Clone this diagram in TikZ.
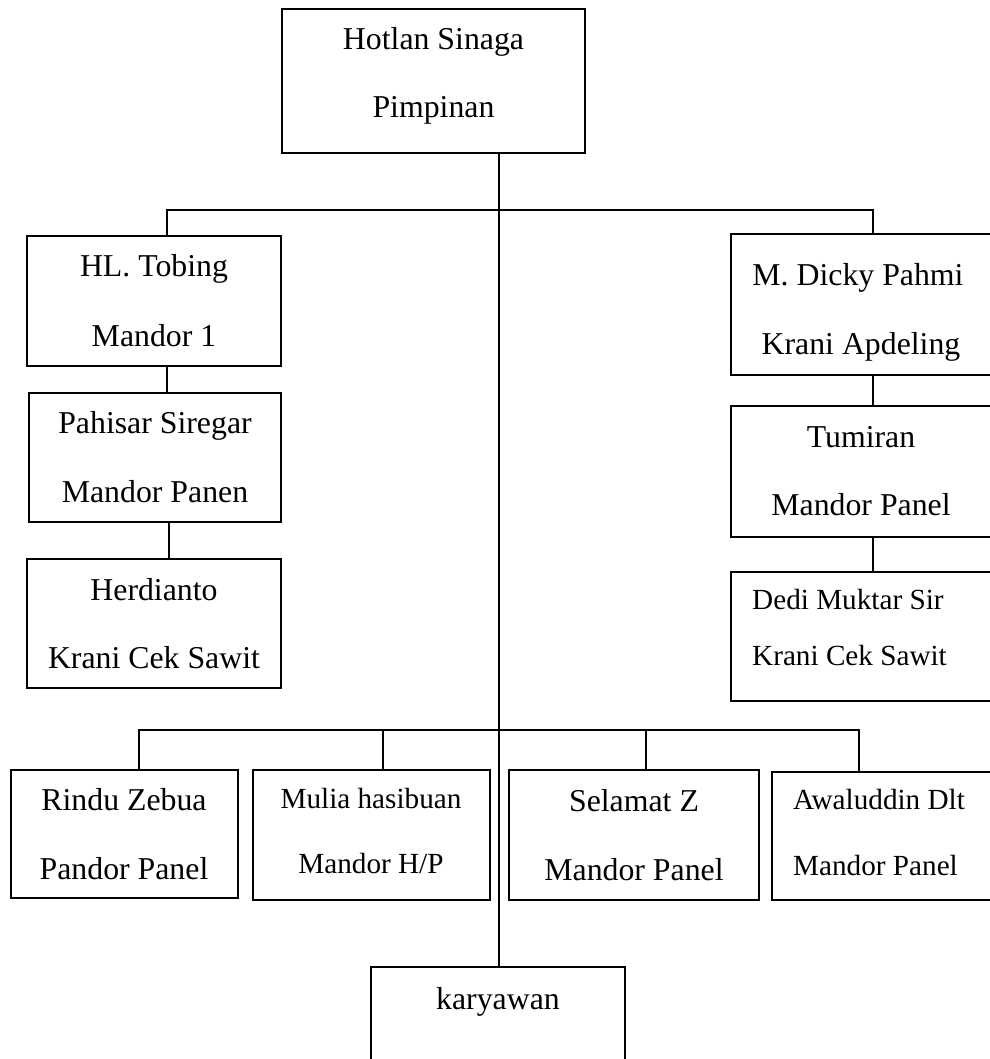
\documentclass[tikz,border=0pt]{standalone}
\usepackage{fontspec}
\setmainfont{Liberation Serif}
\begin{document}
\begin{tikzpicture}[x=1pt,y=-1pt]
	\tikzstyle{every node}+=[inner sep=0pt]
	\tikzstyle{box}=[draw=black, line width=1.2pt, rectangle]
	\tikzstyle{link}=[draw=black, line width=1.2pt]
	\tikzstyle{big}=[anchor=base, font=\fontsize{31.8}{38}\selectfont]
	\tikzstyle{small}=[anchor=base, font=\fontsize{29.2}{35}\selectfont]
	\useasboundingbox (0,0) rectangle (989,1059);
	% boxes
	\node [box, minimum width=303pt, minimum height=144pt] (hotlan) at (433.5,81) {};
	\node [box, minimum width=254pt, minimum height=130pt] (tobing) at (154,301) {};
	\node [box, minimum width=252pt, minimum height=129pt] (pahisar) at (155,457.5) {};
	\node [box, minimum width=254pt, minimum height=129pt] (herdianto) at (154,623.5) {};
	\node [box, minimum width=267pt, minimum height=141pt] (dicky) at (864.5,304.5) {};
	\node [box, minimum width=267pt, minimum height=131pt] (tumiran) at (864.5,471.5) {};
	\node [box, minimum width=267pt, minimum height=129pt] (dedi) at (864.5,636.5) {};
	\node [box, minimum width=227pt, minimum height=128pt] (rindu) at (124.5,834) {};
	\node [box, minimum width=237pt, minimum height=130pt] (mulia) at (371.5,835) {};
	\node [box, minimum width=250pt, minimum height=130pt] (selamat) at (634,835) {};
	\node [box, minimum width=226pt, minimum height=128pt] (awal) at (885,836) {};
	\node [box, minimum width=254pt, minimum height=104pt] (karyawan) at (498,1019) {};
	% texts
	\node [big] (hotlan-a) at (433.5,50) {Hotlan Sinaga};
	\node [big] (hotlan-b) at (433.5,118) {Pimpinan};
	\node [big] (tobing-a) at (154,276) {HL. Tobing};
	\node [big] (tobing-b) at (154,346) {Mandor 1};
	\node [big] (pahisar-a) at (155,433) {Pahisar Siregar};
	\node [big] (pahisar-b) at (155,502) {Mandor Panen};
	\node [big] (herdianto-a) at (154,600) {Herdianto};
	\node [big] (herdianto-b) at (154,668) {Krani Cek Sawit};
	\node [big] (dicky-a) at (858,285) {M. Dicky Pahmi};
	\node [big] (dicky-b) at (861,354) {Krani Apdeling};
	\node [big] (tumiran-a) at (861,447) {Tumiran};
	\node [big] (tumiran-b) at (861,515) {Mandor Panel};
	\node [small, anchor=base west] (dedi-a) at (752,609) {Dedi Muktar Sir};
	\node [small, anchor=base west] (dedi-b) at (752,665) {Krani Cek Sawit};
	\node [big] (rindu-a) at (124,810) {Rindu Zebua};
	\node [big] (rindu-b) at (124,879) {Pandor Panel};
	\node [small] (mulia-a) at (371,808) {Mulia hasibuan};
	\node [small] (mulia-b) at (371,873) {Mandor H/P};
	\node [big] (selamat-a) at (634,811) {Selamat Z};
	\node [big] (selamat-b) at (634,880) {Mandor Panel};
	\node [small, anchor=base west] (awal-a) at (793,809) {Awaluddin Dlt};
	\node [small, anchor=base west] (awal-b) at (793,875) {Mandor Panel};
	\node [big] (karyawan-a) at (498,1009) {karyawan};
	% connectors
	\coordinate (spine) at (499,210);
	\coordinate (bar-l) at (167,210);
	\coordinate (bar-r) at (873,210);
	\coordinate (stub-l) at (169,540);
	\coordinate (low-a) at (139,730);
	\coordinate (low-b) at (383,730);
	\coordinate (low-c) at (646,730);
	\coordinate (low-d) at (859,730);
	\draw [link] (spine |- hotlan.south) -- (spine |- karyawan.north);
	\draw [link] (bar-l |- tobing.north) -- (bar-l) -- (bar-r) -- (bar-r |- dicky.north);
	\draw [link] (bar-l |- tobing.south) -- (bar-l |- pahisar.north);
	\draw [link] (stub-l |- pahisar.south) -- (stub-l |- herdianto.north);
	\draw [link] (bar-r |- dicky.south) -- (bar-r |- tumiran.north);
	\draw [link] (bar-r |- tumiran.south) -- (bar-r |- dedi.north);
	\draw [link] (low-a |- rindu.north) -- (low-a) -- (low-d) -- (low-d |- awal.north);
	\draw [link] (low-b) -- (low-b |- mulia.north);
	\draw [link] (low-c) -- (low-c |- selamat.north);
\end{tikzpicture}
\end{document}
